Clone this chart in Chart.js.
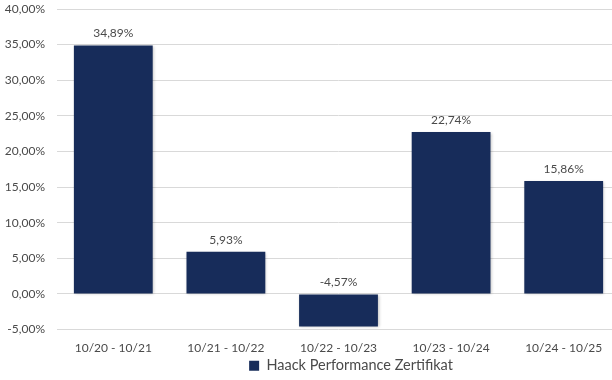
<!DOCTYPE html>
<html><head><meta charset="utf-8">
<script src="https://cdn.jsdelivr.net/npm/chart.js@4/dist/chart.umd.min.js"></script>
<style>html,body{margin:0;padding:0;background:#fff;overflow:hidden;width:612px;height:380px}</style>
</head><body>
<canvas id="c" width="620" height="380" style="width:620px;height:380px"></canvas>
<script>
const categories = ["10/20 - 10/21","10/21 - 10/22","10/22 - 10/23","10/23 - 10/24","10/24 - 10/25"];
const seriesName = "Haack Performance Zertifikat";
const values = [34.89, 5.93, -4.57, 22.74, 15.86];
const yMin = -5, yMax = 40, yStep = 5;

const fmt = v => v.toFixed(2).replace('.', ',') + '%';
const FONT = "Lato, 'Open Sans', sans-serif";
const TXT = '#4a4a4a';

const labelPlugin = {
  id: 'valueLabels',
  afterDatasetsDraw(chart) {
    const ctx = chart.ctx;
    const meta = chart.getDatasetMeta(0);
    ctx.save();
    ctx.font = "12px " + FONT;
    ctx.fillStyle = TXT;
    ctx.textAlign = 'center';
    ctx.textBaseline = 'bottom';
    meta.data.forEach((bar, i) => {
      const top = Math.min(bar.y, bar.base);
      ctx.fillText(fmt(values[i]), bar.x, top - 6);
    });
    ctx.restore();
  }
};
const shadowPlugin = {
  id: 'barShadow',
  beforeDatasetDraw(chart) {
    const ctx = chart.ctx;
    ctx.save();
    ctx.shadowColor = 'rgba(0,0,0,0.25)';
    ctx.shadowBlur = 3;
    ctx.shadowOffsetX = 1;
    ctx.shadowOffsetY = 1;
  },
  afterDatasetDraw(chart) { chart.ctx.restore(); }
};
const legendShift = {
  id: 'legendShift',
  afterLayout(chart) {
    if (chart.legend) { chart.legend.left += 41; chart.legend.right += 41; }
  }
};

new Chart(document.getElementById('c'), {
  type: 'bar',
  data: {
    labels: categories,
    datasets: [{
      label: seriesName,
      data: values,
      backgroundColor: '#172C5A',
      borderWidth: 0,
      categoryPercentage: 0.70,
      barPercentage: 1.0
    }]
  },
  options: {
    responsive: false,
    animation: false,
    devicePixelRatio: 1,
    layout: { padding: { top: 0, left: 0, right: 0, bottom: -3 } },
    plugins: {
      legend: {
        position: 'bottom',
        labels: { font: { family: FONT, size: 14.5 }, color: TXT, boxWidth: 10, boxHeight: 10, padding: 0 }
      },
      tooltip: { enabled: false }
    },
    scales: {
      x: {
        grid: { display: false, drawTicks: false },
        border: { display: false },
        ticks: { font: { family: FONT, size: 12 }, color: TXT, padding: 11, maxRotation: 0 },
        afterFit(scale) { scale.height = 29; }
      },
      y: {
        min: yMin, max: yMax,
        grid: { color: '#d9d9d9', lineWidth: 1, drawTicks: false },
        border: { display: false },
        ticks: { stepSize: yStep, font: { family: FONT, size: 12 }, color: TXT, padding: 12,
          callback: v => fmt(v) },
        afterFit(scale) { scale.width = 57; scale.paddingTop = 9; scale.paddingBottom = 7; }
      }
    }
  },
  plugins: [labelPlugin, shadowPlugin, legendShift]
});
</script>
</body></html>
